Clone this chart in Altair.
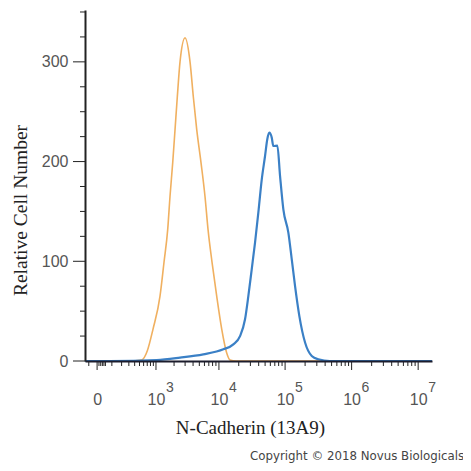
import altair as alt
import pandas as pd

# ---- data ----
orange_x = [-78, 300, 552, 700, 888, 1172, 1368, 1576, 1718, 1902, 2073, 2256, 2492,
            2992, 3585, 4035, 4560, 5310, 6120, 6810, 7850, 9250, 11030, 13140, 14760,
            18200, 16140000]
orange_y = [0, 0, 1, 10, 32, 65, 99, 132, 165, 199, 232, 265, 300,
            324, 300, 265, 232, 199, 165, 132, 99, 65, 32, 8, 1,
            0, 0]

blue_x = [-78, 84, 1029, 2492, 5760, 11670, 16560, 20920, 24900, 27930, 31420, 35250,
          39530, 44490, 49900, 54030, 57890, 62960, 66530, 76440, 83990, 94140, 111930,
          125970, 141210, 163890, 199640, 251790, 316290, 471000, 16140000]
blue_y = [0, 0, 1, 3.4, 6.7, 11.7, 16.7, 25, 41.8, 65, 92, 118.8,
          148.8, 182, 205.6, 222.7, 229, 224, 215.6, 216, 185.5, 152, 128.8,
          102, 75, 45, 18.5, 5, 1.7, 0, 0]

major_x_ticks = [0, 1000, 10000, 100000, 1000000, 10000000]
minor_x_ticks = ([-50, 10, 20, 30, 40, 50]
                 + [m * 100 for m in range(1, 10)]
                 + [m * 1000 for m in range(2, 10)]
                 + [m * 10000 for m in range(2, 10)]
                 + [m * 100000 for m in range(2, 10)]
                 + [m * 1000000 for m in range(2, 10)])
sup_values = [1000, 10000, 100000, 1000000, 10000000]
sup_labels = ["3", "4", "5", "6", "7"]

y_major_ticks = [0, 100, 200, 300]
y_minor_ticks = [25, 50, 75, 125, 150, 175, 225, 250, 275, 325, 350]

W, H = 347, 351

orange_df = pd.DataFrame({"v": orange_x, "n": orange_y})
blue_df = pd.DataFrame({"v": blue_x, "n": blue_y})
sup_df = pd.DataFrame({"v": sup_values, "e": sup_labels})

xscale = alt.Scale(type="symlog", constant=150, domain=[-78, 16140000], nice=False)
yscale = alt.Scale(domain=[0, 352], nice=False, zero=False)

x_axis = alt.Axis(
    values=major_x_ticks,
    labelExpr="datum.value == 0 ? '0' : '10'",
    ticks=False, tickSize=0,
    labelFont="Liberation Sans", labelFontSize=16, labelColor="#555555",
    labelBaseline="alphabetic", labelPadding=43,
    labelOverlap=False, labelFlush=False,
    domainColor="#1c1c2c", domainWidth=2,
    grid=False, title="N-Cadherin (13A9)", titleFont="Liberation Serif",
    titleFontSize=19, titleFontWeight="normal", titleColor="#222222",
    titleX=165, titleY=72, titleAlign="center", titleBaseline="alphabetic",
    zindex=1,
)

y_axis = alt.Axis(
    values=y_major_ticks,
    ticks=False, tickSize=0,
    labelFont="Liberation Sans", labelFontSize=16, labelColor="#555555",
    labelPadding=17, labelOverlap=False,
    domainColor="#222222", domainWidth=2,
    grid=False, title="Relative Cell Number", titleFont="Liberation Serif",
    titleFontSize=19.5, titleFontWeight="normal", titleColor="#222222",
    titleX=-65, titleY=200, titleAngle=270, titleAlign="center",
    titleBaseline="middle", zindex=1,
)

orange = alt.Chart(orange_df).mark_line(
    color="#f0b060", strokeWidth=1.6, interpolate="monotone"
).encode(
    x=alt.X("v:Q", scale=xscale, axis=x_axis),
    y=alt.Y("n:Q", scale=yscale, axis=y_axis),
    order="v:Q",
)

blue = alt.Chart(blue_df).mark_line(
    color="#3b80c6", strokeWidth=2.2, interpolate="monotone"
).encode(
    x=alt.X("v:Q", scale=xscale),
    y=alt.Y("n:Q", scale=yscale),
    order="v:Q",
)

# tick marks (major longer than minor)
xmaj = alt.Chart(pd.DataFrame({"v": major_x_ticks})).mark_rule(
    color="#222222", strokeWidth=1
).encode(x=alt.X("v:Q", scale=xscale), y=alt.value(H), y2=alt.value(H + 9))

xmin = alt.Chart(pd.DataFrame({"v": minor_x_ticks})).mark_rule(
    color="#222222", strokeWidth=1
).encode(x=alt.X("v:Q", scale=xscale), y=alt.value(H), y2=alt.value(H + 5))

ymaj = alt.Chart(pd.DataFrame({"v": y_major_ticks})).mark_rule(
    color="#222222", strokeWidth=1
).encode(y=alt.Y("v:Q", scale=yscale), x=alt.value(0), x2=alt.value(-12))

ymin = alt.Chart(pd.DataFrame({"v": y_minor_ticks})).mark_rule(
    color="#222222", strokeWidth=1
).encode(y=alt.Y("v:Q", scale=yscale), x=alt.value(0), x2=alt.value(-5))

sup = alt.Chart(sup_df).mark_text(
    align="left", baseline="alphabetic", dx=10,
    font="Liberation Sans", fontSize=14, color="#555555",
).encode(
    x=alt.X("v:Q", scale=xscale),
    y=alt.value(H + 31),
    text="e:N",
)

copyright_txt = alt.Chart(pd.DataFrame({"t": ["Copyright © 2018 Novus Biologicals"]})).mark_text(
    align="left", baseline="alphabetic", font="DejaVu Sans", fontSize=11.8,
    color="#444444",
).encode(
    x=alt.value(165), y=alt.value(450), text="t:N",
)

chart = alt.layer(orange, blue, xmaj, xmin, ymaj, ymin, sup, copyright_txt).properties(
    width=W, height=H,
    padding={"left": 77, "top": 2, "right": 31, "bottom": 102},
    autosize=alt.AutoSizeParams(type="none"),
).configure_view(stroke=None)

chart.save("out.html", embed_options={"renderer": "svg", "actions": False})
